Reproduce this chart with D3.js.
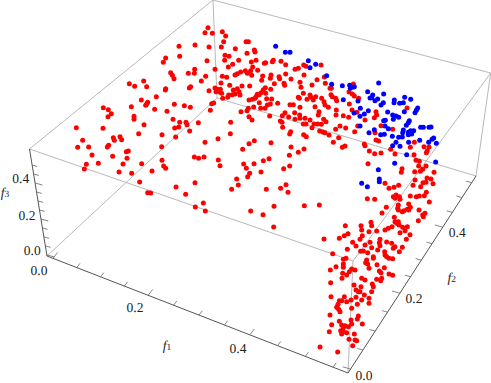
<!DOCTYPE html>
<html>
<head>
<meta charset="utf-8">
<script src="https://cdn.jsdelivr.net/npm/d3@7"></script>
<style>
  html, body { margin: 0; padding: 0; background: #fff; }
  svg { display: block; }
  text { font-family: "Liberation Serif", "Times New Roman", serif; font-size: 13.5px; fill: #222; text-rendering: geometricPrecision; }
</style>
</head>
<body>
<svg id="chart" width="491" height="383"></svg>
<script>
var redNW = [[624,83],[615,98],[637,100],[667,95],[677,108],[671,125],[664,141],[706,146],[537,139],[585,135],[627,141],[539,169],[497,174],[490,187],[621,182],[675,166],[687,169],[674,181],[698,193],[716,181],[685,201],[645,208],[584,208],[583,220],[565,220],[512,218],[517,226],[522,236],[617,229],[604,243],[667,229],[680,232],[663,249],[705,225],[712,221],[722,216],[388,251],[431,243],[404,259],[440,260],[572,260],[568,264],[497,266],[496,270],[469,290],[627,272],[645,264],[652,268],[661,268],[648,275],[660,277],[665,280],[689,256],[700,270],[712,266],[717,275],[726,258],[697,284],[705,282],[720,285],[686,285],[683,292],[668,295],[424,300],[443,307],[440,312],[437,316],[394,320],[464,328],[523,313],[553,317],[571,322],[501,334],[641,309],[635,311],[631,331],[310,323],[325,329],[334,341],[324,350],[402,349],[402,358],[519,358],[432,374],[539,367],[558,367],[561,374],[595,368],[536,381],[524,384],[569,393],[692,367],[229,383],[309,385],[416,401],[486,404],[527,411],[691,401],[723,335],[654,416],[248,421],[340,413],[343,421],[360,410],[365,419],[615,427],[233,442],[266,441],[326,436],[322,441],[485,440],[728,448],[276,465],[338,469],[385,453],[379,455],[381,475],[583,471],[596,475],[612,471],[655,480],[486,481],[491,498],[497,505],[660,497],[731,492],[259,493],[253,507],[295,490],[369,492],[425,491],[357,516],[395,520],[456,513],[419,546],[528,561],[585,548],[710,537],[715,555],[695,568]];

var redNE = [[3,125],[10,125],[28,150],[30,156],[6,160],[33,181],[19,186],[58,190],[62,188],[85,181],[82,185],[108,184],[122,194],[1,212],[23,201],[17,212],[38,211],[53,228],[7,220],[20,226],[14,258],[50,241],[78,225],[76,235],[102,230],[104,236],[122,222],[138,237],[117,250],[119,256],[88,251],[77,268],[61,263],[55,269],[48,278],[62,280],[37,283],[42,284],[33,290],[30,295],[22,298],[12,300],[65,296],[80,297],[76,312],[98,310],[43,308],[26,321],[47,325],[60,325],[67,315],[10,325],[6,332],[12,350],[21,360],[74,348],[120,338],[112,347],[106,363],[111,367],[131,351],[149,338],[135,314],[145,314],[165,322],[163,295],[175,280],[160,292],[195,285],[198,292],[212,290],[186,298],[205,300],[230,295],[237,305],[240,315],[250,322],[210,320],[222,335],[220,345],[150,358],[165,355],[180,355],[175,372],[183,372],[164,345],[195,360],[207,372],[218,372],[236,358],[243,365],[229,373],[201,383],[113,382],[137,395],[134,402],[176,404],[184,410],[224,393],[233,396],[240,398],[252,405],[272,388],[285,378],[302,384],[329,395],[338,378],[281,413],[265,427],[300,438],[292,442],[12,431],[28,422],[78,428],[138,441],[133,466],[160,457],[177,447],[72,476],[55,482],[27,491],[4,505],[14,520],[8,530],[48,516],[116,506],[134,498],[150,208],[160,205],[176,195],[183,199],[228,195],[177,225],[165,247],[168,262],[201,255],[216,239],[238,231],[241,250],[259,265],[258,284],[262,290],[272,295],[275,302],[255,265],[313,312],[325,252],[324,262],[312,276],[322,282],[328,288],[341,295],[274,330],[273,345],[295,347],[311,352],[321,330],[336,337],[360,360],[393,335],[395,345],[388,353],[408,377],[390,398],[393,420],[401,423],[358,432],[360,437],[373,453],[389,461],[408,459],[437,448],[450,462],[369,491],[486,324],[443,388],[496,442],[508,427],[537,440],[552,441],[547,452],[544,458],[507,464],[513,481],[523,484],[521,498],[543,498],[533,508],[471,506],[469,517],[509,515],[526,514],[567,517],[546,534],[534,548],[543,547],[558,537],[564,551],[510,540],[504,556],[527,560],[420,550],[461,556],[447,562],[432,565],[64,568],[107,565],[123,554]];

var redSW = [[443,8],[452,9],[557,13],[610,39],[586,51],[616,63]];

var redSE = [[129,7],[17,63],[54,74],[87,49],[178,47],[223,45],[86,111],[367,26],[389,28],[453,15],[445,20],[463,20],[450,25],[465,28],[496,18],[514,20],[523,18],[538,17],[544,7],[553,36],[460,45],[458,55],[460,60],[491,42],[496,52],[487,58],[491,60],[477,62],[472,65],[522,60],[540,70],[533,75],[535,80],[520,92],[424,52],[411,69],[448,82],[450,95],[455,100],[460,95],[462,105],[441,110],[430,115],[420,120],[465,128],[473,112],[487,110],[480,122],[495,134],[484,148],[472,172],[395,123],[378,97],[380,107],[348,107],[350,120],[372,125],[352,137],[345,148],[301,107],[309,131],[298,137],[283,145],[237,147],[323,157],[333,168],[360,165],[375,157],[405,148],[403,158],[405,167],[425,156],[440,160],[450,170],[445,175],[463,185],[380,173],[398,180],[368,188],[355,183],[347,184],[419,185],[420,195],[425,200],[432,205],[443,206],[307,178],[263,191],[303,205],[295,208],[385,200],[385,205],[365,210],[362,218],[368,222],[396,224],[372,235],[418,233],[403,243],[408,248],[432,252],[443,256],[410,265],[407,272],[395,268],[350,265],[360,270],[295,222],[295,232],[273,230],[256,240],[330,240],[320,237],[313,245],[305,255],[293,250],[291,265],[257,278],[327,285],[348,290],[382,282],[385,290],[380,305],[333,300],[340,305],[345,305],[358,315],[350,330],[333,322],[372,325],[372,340],[337,343],[258,320],[298,320],[290,332],[283,332],[279,343],[275,352],[281,358],[285,365],[305,335],[318,330],[320,355],[255,375],[340,378],[337,387],[352,402],[318,390],[283,394],[260,404],[290,405],[300,407],[295,413],[310,410],[320,402],[253,425],[287,422],[295,425],[290,432],[305,428],[328,432],[312,448],[330,450],[335,452],[323,467],[225,471],[278,486]];

var blueNE = [[92,139],[121,157],[135,157],[190,182],[212,193],[195,203],[245,227],[260,253],[292,257],[314,256],[328,260],[316,265],[295,299],[339,303],[401,249],[368,275],[416,282],[383,285],[375,294],[380,293],[398,297],[390,302],[415,308],[408,315],[448,300],[447,308],[464,310],[475,308],[479,292],[497,298],[346,325],[370,332],[358,342],[327,339],[345,349],[428,336],[478,335],[510,338],[514,331],[518,324],[443,345],[445,358],[453,348],[461,352],[421,361],[416,362],[493,362],[490,368],[484,376],[345,378],[420,378],[430,386],[372,398],[388,389],[407,404],[418,403],[442,409],[475,390],[473,398],[490,397],[497,392],[506,392],[500,402],[490,404],[527,382],[535,382],[552,382],[558,381],[461,412],[472,411],[524,421],[566,414],[561,418],[551,427],[574,430],[491,427],[453,427],[443,437],[465,439],[485,464],[449,490],[572,486],[400,509],[350,550],[403,537],[403,545],[367,560]];

var f1Ticks = [0, 0.05, 0.1, 0.15, 0.2, 0.25, 0.3, 0.35, 0.4, 0.45, 0.5, 0.55];
var f2Ticks = [0, 0.05, 0.1, 0.15, 0.2, 0.25, 0.3, 0.35, 0.4, 0.45, 0.5, 0.55];
var f3Ticks = [0, 0.05, 0.1, 0.15, 0.2, 0.25, 0.3, 0.35, 0.4, 0.45, 0.5];
var majorTicks = [0, 0.2, 0.4];

var svg = d3.select("#chart");

// the box as it sits on the page
var corners = {
  origin: [47, 256], f1End: [348, 373], f2End: [217, 98], far: [476, 176],
  topOrigin: [29.5, 149], topF1: [353, 261], topF2: [213, 0], topFar: [490.7, 73]
};
var backEdges = [
  ["origin", "f2End"], ["f2End", "far"], ["f2End", "topF2"],
  ["topOrigin", "topF1"], ["topOrigin", "topF2"], ["topF2", "topFar"],
  ["topFar", "topF1"], ["topFar", "far"], ["topF1", "f1End"]
];

svg.append("g")
  .selectAll("line")
  .data(backEdges)
  .enter()
  .append("line")
  .attr("x1", function (d) { return corners[d[0]][0]; })
  .attr("y1", function (d) { return corners[d[0]][1]; })
  .attr("x2", function (d) { return corners[d[1]][0]; })
  .attr("y2", function (d) { return corners[d[1]][1]; })
  .attr("stroke", "#b0b0b0")
  .attr("stroke-width", 0.9);

// axis scales: value -> fraction along the edge, piecewise because of the perspective
var axes = [
  {
    from: corners.origin, to: corners.f1End, ticks: f1Ticks,
    scale: d3.scaleLinear().domain([0, 0.2, 0.4, 0.55]).range([0.02, 0.336, 0.674, 0.95]),
    dir: [3.2, -4.2]
  },
  {
    from: corners.f1End, to: corners.far, ticks: f2Ticks,
    scale: d3.scaleLinear().domain([0, 0.2, 0.4, 0.55]).range([0.02, 0.405, 0.74, 0.966]),
    dir: [-5.6, -1.6]
  },
  {
    from: corners.origin, to: corners.topOrigin, ticks: f3Ticks,
    scale: d3.scaleLinear().domain([0, 0.2, 0.4, 0.5]).range([0.01, 0.346, 0.682, 0.85]),
    dir: [5.2, 1.4]
  }
];

axes.forEach(function (a) {
  var g = svg.append("g");
  g.append("line")
    .attr("x1", a.from[0]).attr("y1", a.from[1])
    .attr("x2", a.to[0]).attr("y2", a.to[1])
    .attr("stroke", "#555")
    .attr("stroke-width", 1);

  g.selectAll("line.tick")
    .data(a.ticks)
    .enter()
    .append("line")
    .attr("class", "tick")
    .each(function (d) {
      var p = d3.interpolate(a.from, a.to)(a.scale(d));
      var k = majorTicks.indexOf(d) >= 0 ? 1.4 : 1;
      d3.select(this)
        .attr("x1", p[0]).attr("y1", p[1])
        .attr("x2", p[0] + a.dir[0] * k).attr("y2", p[1] + a.dir[1] * k);
    })
    .attr("stroke", "#666")
    .attr("stroke-width", 0.8);
});

// tick labels
var tickLabels = [
  ["0.0", 39, 270], ["0.2", 135, 307.3], ["0.4", 238, 348],
  ["0.0", 364, 375.7], ["0.2", 414, 298], ["0.4", 457.3, 232.3],
  ["0.0", 32.3, 250], ["0.2", 27, 215], ["0.4", 20.8, 178]
];
svg.append("g")
  .selectAll("text")
  .data(tickLabels)
  .enter()
  .append("text")
  .attr("x", function (d) { return d[1]; })
  .attr("y", function (d) { return d[2]; })
  .attr("text-anchor", "middle")
  .attr("dominant-baseline", "central")
  .text(function (d) { return d[0]; });

// axis titles
var axisTitles = [["1", 167, 345], ["2", 451.7, 277.3], ["3", 5, 192]];
axisTitles.forEach(function (t) {
  var label = svg.append("text")
    .attr("x", t[1]).attr("y", t[2])
    .attr("text-anchor", "middle")
    .attr("dominant-baseline", "central");
  label.append("tspan").attr("font-style", "italic").text("f");
  label.append("tspan").attr("dy", 2.5).style("font-size", "9.5px").text(t[0]);
});

// quarter scales: read-off units back to the page
var xWest = d3.scaleLinear().domain([0, 735]).range([0, 245]);
var xEast = d3.scaleLinear().domain([0, 738]).range([245, 491]);
var yNorth = d3.scaleLinear().domain([0, 570]).range([0, 190]);
var ySouth = d3.scaleLinear().domain([0, 579]).range([190, 383]);

function drawPoints(points, xs, ys, color) {
  svg.append("g")
    .selectAll("circle")
    .data(points)
    .enter()
    .append("circle")
    .attr("cx", function (d) { return xs(d[0]); })
    .attr("cy", function (d) { return ys(d[1]); })
    .attr("r", 2.5)
    .style("fill", color);
}

drawPoints(redNW, xWest, yNorth, "#ff0000");
drawPoints(redNE, xEast, yNorth, "#ff0000");
drawPoints(redSW, xWest, ySouth, "#ff0000");
drawPoints(redSE, xEast, ySouth, "#ff0000");
drawPoints(blueNE, xEast, yNorth, "#0000ff");
</script>
</body>
</html>
